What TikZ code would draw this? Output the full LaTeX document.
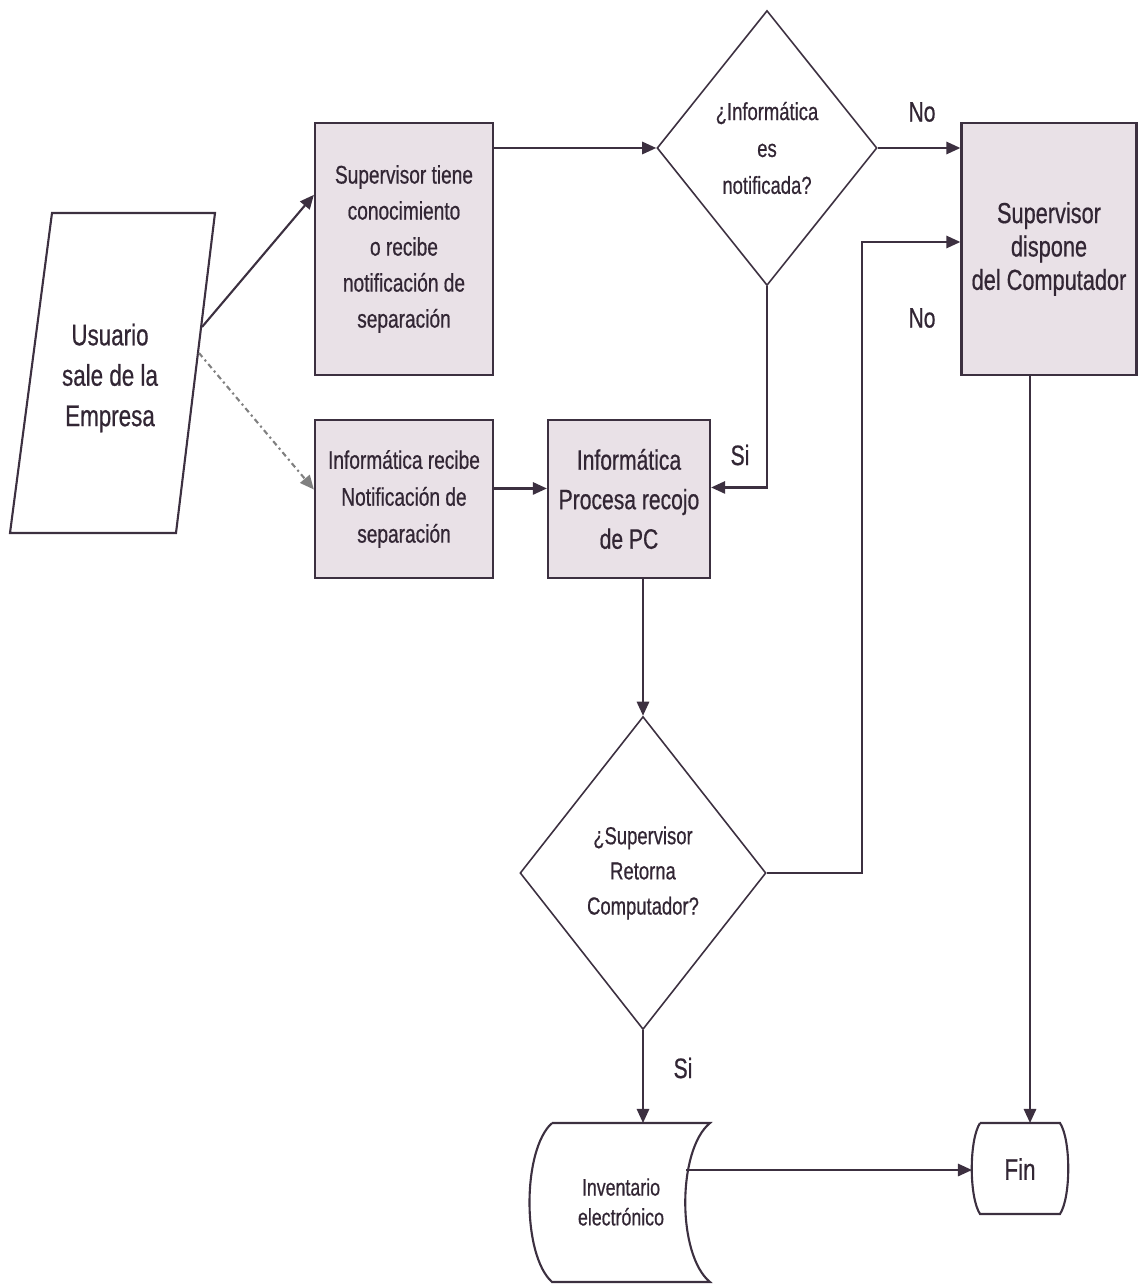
\documentclass[tikz,border=0pt]{standalone}
\usepackage{fontspec}
\setmainfont{Liberation Sans}[FakeStretch=0.75, FakeBold=0.6]
\usetikzlibrary{shapes.geometric,arrows.meta}

\definecolor{linea}{RGB}{60,48,64}
\definecolor{relleno}{RGB}{233,225,231}
\definecolor{texto}{RGB}{50,38,52}

\tikzset{
  proceso/.style={draw=linea, fill=relleno, line width=1.3pt, align=center, text=texto},
  decision/.style={diamond, draw=linea, line width=0.9pt, align=center, inner sep=0pt, text=texto},
  flecha/.style={linea, line width=1.2pt, -{Triangle[length=8pt,width=7pt]}},
  etiqueta/.style={text=texto, font=\fontsize{16}{19}\selectfont},
}

\begin{document}
\begin{tikzpicture}[x=0.02cm, y=-0.02cm]
    \useasboundingbox (0,0) rectangle (1139,1284);

    % Usuario (parallelogram)
    \draw[linea, line width=1.2pt] (52,213) -- (215,213) -- (176,533) -- (10,533) -- cycle;
    \node[text=texto, align=center, font=\fontsize{17}{23}\selectfont] (usr) at (110,378) {Usuario\\sale de la\\Empresa};
    \coordinate (usr1) at (202,327);
    \coordinate (usr2) at (199,353);

    % Procesos
    \node[proceso, minimum width=3.56cm, minimum height=5.04cm, font=\fontsize{14.5}{20.5}\selectfont] (sup) at (404,249)
        {Supervisor tiene\\conocimiento\\o recibe\\notificación de\\separación};
    \node[proceso, minimum width=3.56cm, minimum height=3.16cm, font=\fontsize{14.5}{21}\selectfont] (inf) at (404,499)
        {Informática recibe\\Notificación de\\separación};
    \node[proceso, minimum width=3.24cm, minimum height=3.16cm, font=\fontsize{16}{22.5}\selectfont] (proc) at (629,499)
        {Informática\\Procesa recojo\\de PC};
    \node[proceso, minimum width=3.5cm, minimum height=5.04cm, font=\fontsize{16.5}{19}\selectfont] (disp) at (1049,249)
        {Supervisor\\dispone\\del Computador};

    % Decisiones
    \node[decision, minimum width=4.4cm, minimum height=5.5cm, font=\fontsize{14}{21}\selectfont] (d1) at (767,148)
        {¿Informática\\es\\notificada?};
    \node[decision, minimum width=4.92cm, minimum height=6.26cm, font=\fontsize{14}{20}\selectfont] (d2) at (643,873)
        {¿Supervisor\\Retorna\\Computador?};

    % Inventario (stored data)
    \draw[linea, line width=1.2pt] (552,1123) -- (710,1123) .. controls (677,1150) and (677,1255) .. (710,1282)
        -- (552,1282) .. controls (522,1255) and (522,1150) .. (552,1123);
    \node[text=texto, align=center, font=\fontsize{13.5}{17}\selectfont] (inv) at (621,1202) {Inventario\\electrónico};
    \coordinate (invr) at (686,1170);
    \coordinate (invt) at (643,1123);

    % Fin
    \draw[linea, line width=1.2pt] (980,1123) -- (1060,1123) .. controls (1071,1140) and (1071,1197) .. (1060,1214)
        -- (980,1214) .. controls (969,1197) and (969,1140) .. (980,1123);
    \node[text=texto, font=\fontsize{17}{20}\selectfont] (fin) at (1020,1169) {Fin};
    \coordinate (finl) at (972,1170);
    \coordinate (fint) at (1030,1123);

    % Conectores
    \draw[flecha] (usr1) -- (sup.149);
    \draw[flecha, gray, dash dot] (usr2) -- (inf.174);
    \draw[flecha] (sup.east |- d1.west) -- (d1.west);
    \draw[flecha] (d1.east) -- (disp.west |- d1.east);
    \draw[flecha] (d1.south) |- (proc.8);
    \draw[flecha] ([yshift=6pt]inf.east) -- ([yshift=6pt]proc.west);
    \draw[flecha] (d2.north |- proc.south) -- (d2.north);
    \coordinate (codo) at (862,242);
    \draw[flecha] (d2.east) -| (codo) -- (disp.west |- codo);
    \draw[flecha] (d2.south) -- (invt);
    \draw[flecha] (invr) -- (finl);
    \draw[flecha] (disp.south -| fint) -- (fint);

    % Etiquetas
    \node[etiqueta] (no1) at (922,112) {No};
    \node[etiqueta] (no2) at (922,318) {No};
    \node[etiqueta] (si1) at (740,455) {Si};
    \node[etiqueta] (si2) at (683,1068) {Si};
\end{tikzpicture}
\end{document}
